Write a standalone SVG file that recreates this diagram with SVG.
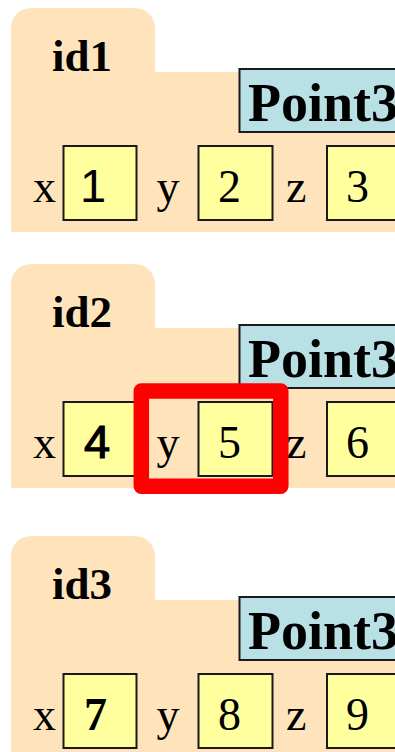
<svg xmlns="http://www.w3.org/2000/svg" xmlns:xlink="http://www.w3.org/1999/xlink" width="395" height="752" viewBox="0 0 395 752">
<style>
.folder{fill:#FFE3BB;stroke:none}
.cls{fill:#B9E0E5;stroke:#1a1a1a;stroke-width:2}
.fld{fill:#FFFF9E;stroke:#1a1a1a;stroke-width:2}
.id{font-family:"Liberation Serif","Times New Roman",serif;font-weight:bold;font-size:45px;fill:#000}
.cn{font-family:"Liberation Serif","Times New Roman",serif;font-weight:bold;font-size:54px;fill:#000}
.lbl{font-family:"Liberation Serif","Times New Roman",serif;font-size:46px;fill:#000}
.sans{font-family:"Liberation Sans",Arial,sans-serif;font-size:47px;fill:#000}
.hl{fill:none;stroke:#FF0000;stroke-width:15.5;stroke-linejoin:round}
</style>
<defs>
<path id="folderShape" d="M11,232 V28 A20,20 0 0 1 31,8 H135 A20,20 0 0 1 155,28 V72 H395 V232 Z"/>
<g id="frame">
<use xlink:href="#folderShape" class="folder"/>
<rect class="cls" x="239.5" y="69" width="170" height="63"/>
<rect class="fld" x="63.5" y="146" width="73" height="74"/>
<rect class="fld" x="198.5" y="146" width="74" height="74"/>
<rect class="fld" x="327" y="146" width="74" height="74"/>
</g>
</defs>
<g id="id1">
<use xlink:href="#frame"/>
<text class="id" x="52" y="71">id1</text>
<text class="cn" x="248" y="121">Point3</text>
<text class="lbl" x="33" y="202">x</text>
<text class="sans" x="80" y="202">1</text>
<text class="lbl" x="156.5" y="202">y</text>
<text class="lbl" x="218" y="202">2</text>
<text class="lbl" x="286" y="202">z</text>
<text class="lbl" x="346" y="202">3</text>
</g>
<g id="id2" transform="translate(0,256)">
<use xlink:href="#frame"/>
<text class="id" x="52" y="71">id2</text>
<text class="cn" x="248" y="121">Point3</text>
<text class="lbl" x="33" y="202">x</text>
<text class="sans" x="84" y="202" stroke="#000" stroke-width="1.2">4</text>
<text class="lbl" x="156.5" y="202">y</text>
<text class="lbl" x="218" y="202">5</text>
<text class="lbl" x="286" y="202">z</text>
<text class="lbl" x="346" y="202">6</text>
</g>
<g id="id3" transform="translate(0,528)">
<use xlink:href="#frame"/>
<text class="id" x="52" y="71">id3</text>
<text class="cn" x="248" y="121">Point3</text>
<text class="lbl" x="33" y="202">x</text>
<text class="lbl" x="84" y="202" font-weight="bold">7</text>
<text class="lbl" x="156.5" y="202">y</text>
<text class="lbl" x="218" y="202">8</text>
<text class="lbl" x="286" y="202">z</text>
<text class="lbl" x="346" y="202">9</text>
</g>
<g id="highlight">
<rect class="hl" x="141.3" y="391" width="139.5" height="95.3"/>
</g>
</svg>
